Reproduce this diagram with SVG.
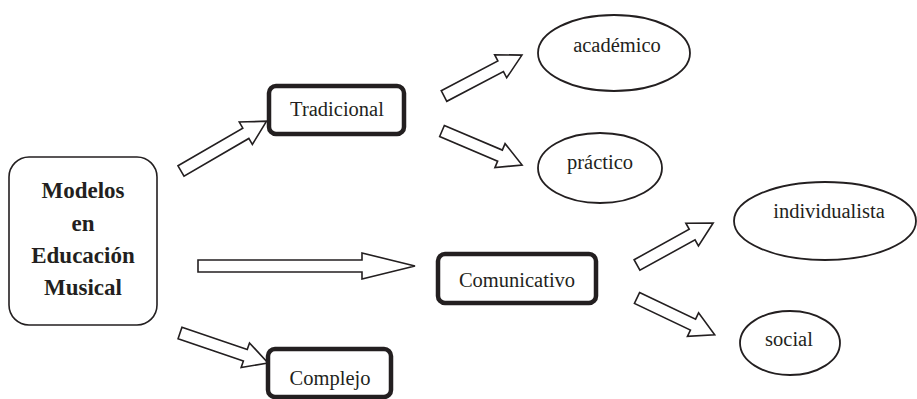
<svg xmlns="http://www.w3.org/2000/svg" width="917" height="399" viewBox="0 0 917 399">
<style>
.bg{fill:#fff}
.main{fill:#fff;stroke:#231f20;stroke-width:1.6}
.box{fill:#fff;stroke:#231f20;stroke-width:4.5}
.ell{fill:#fff;stroke:#231f20;stroke-width:1.8}
.arr{fill:#fff;stroke:#231f20;stroke-width:1.6;stroke-linejoin:miter}
text{font-family:'Liberation Serif','DejaVu Serif',serif;fill:#231f20;text-anchor:middle}
.t{font-size:20.5px}
.b{font-size:23px;font-weight:bold}
</style>
<rect class="bg" width="917" height="399"/>
<g id="connectors">
<polygon class="arr" transform="translate(181,171) rotate(-30.2)" points="0,-6 75,-6 75,-13 99,0 75,13 75,6 0,6"/>
<polygon class="arr" transform="translate(444,96) rotate(-27.7)" points="0,-6 64,-6 64,-13 88,0 64,13 64,6 0,6"/>
<polygon class="arr" transform="translate(442,131) rotate(23)" points="0,-6 63,-6 63,-13 87,0 63,13 63,6 0,6"/>
<polygon class="arr" points="198,260 362,260 362,253 415,266 362,279 362,272 198,272"/>
<polygon class="arr" transform="translate(180,333) rotate(18.8)" points="0,-6 69,-6 69,-13 93,0 69,13 69,6 0,6"/>
<polygon class="arr" transform="translate(637,265) rotate(-28.9)" points="0,-6 63,-6 63,-13 87,0 63,13 63,6 0,6"/>
<polygon class="arr" transform="translate(637,298) rotate(25.4)" points="0,-6 62,-6 62,-13 86,0 62,13 62,6 0,6"/>
</g>
<g id="modelos">
<rect class="main" x="9" y="157" width="148" height="168" rx="20"/>
<text class="b" x="83" y="198">Modelos</text>
<text class="b" x="83" y="231">en</text>
<text class="b" x="83" y="263">Educación</text>
<text class="b" x="83" y="295">Musical</text>
</g>
<g id="tradicional">
<rect class="box" x="269" y="86" width="135" height="48" rx="7"/>
<text class="t" x="337" y="116">Tradicional</text>
</g>
<g id="comunicativo">
<rect class="box" x="438" y="254" width="158" height="49" rx="7"/>
<text class="t" x="517" y="287">Comunicativo</text>
</g>
<g id="complejo">
<rect class="box" x="268" y="349" width="123" height="48" rx="7"/>
<text class="t" x="330" y="385">Complejo</text>
</g>
<g id="academico">
<ellipse class="ell" cx="614" cy="53" rx="76" ry="38"/>
<text class="t" x="617" y="52">académico</text>
</g>
<g id="practico">
<ellipse class="ell" cx="600" cy="168" rx="62" ry="35"/>
<text class="t" x="600" y="169">práctico</text>
</g>
<g id="individualista">
<ellipse class="ell" cx="825" cy="221" rx="91" ry="39"/>
<text class="t" x="829" y="218">individualista</text>
</g>
<g id="social">
<ellipse class="ell" cx="790" cy="343" rx="50" ry="32"/>
<text class="t" x="789" y="346">social</text>
</g>
</svg>
